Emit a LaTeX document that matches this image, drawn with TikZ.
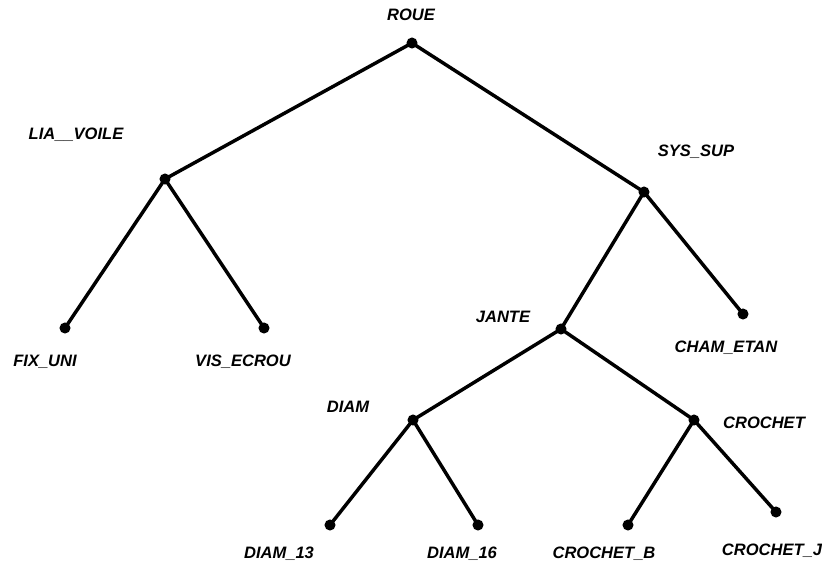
\documentclass[tikz,border=0pt]{standalone}
\usepackage{fontspec}
\setmainfont{Liberation Sans}
\begin{document}
\begin{tikzpicture}[x=0.75pt,y=-0.75pt,
  dot/.style={circle,fill=black,inner sep=0pt,minimum size=8.3pt},
  lbl/.style={font=\fontsize{12.4}{14}\selectfont\bfseries\itshape,inner sep=0pt,anchor=center},
  edge/.style={line width=2.6pt}]
\useasboundingbox (0,0) rectangle (822,569);
% dots
\node[dot] (roue) at (412,43) {};
\node[dot] (lia) at (165,179) {};
\node[dot] (sys) at (644,192) {};
\node[dot] (fix) at (65,328) {};
\node[dot] (vis) at (264,328) {};
\node[dot] (jante) at (561,329) {};
\node[dot] (cham) at (743,314) {};
\node[dot] (diam) at (413,420) {};
\node[dot] (croc) at (694,420) {};
\node[dot] (d13) at (330,525) {};
\node[dot] (d16) at (478,525) {};
\node[dot] (cb) at (628,525) {};
\node[dot] (cj) at (776,512) {};
% labels
\node[lbl] (lroue) at (411,15) {ROUE};
\node[lbl] (llia) at (76,135) {LIA\_\_VOILE};
\node[lbl] (lsys) at (696,152) {SYS\_SUP};
\node[lbl] (lfix) at (45,362) {FIX\_UNI};
\node[lbl] (lvis) at (243,362) {VIS\_ECROU};
\node[lbl] (ljante) at (503,317) {JANTE};
\node[lbl] (lcham) at (726,348) {CHAM\_ETAN};
\node[lbl] (ldiam) at (348,407) {DIAM};
\node[lbl] (lcroc) at (764,423) {CROCHET};
\node[lbl] (ld13) at (279,554) {DIAM\_13};
\node[lbl] (ld16) at (462,554) {DIAM\_16};
\node[lbl] (lcb) at (604,554) {CROCHET\_B};
\node[lbl] (lcj) at (772,551) {CROCHET\_J};
% edges
\draw[edge] (roue.center) -- (lia.center);
\draw[edge] (roue.center) -- (sys.center);
\draw[edge] (lia.center) -- (fix.center);
\draw[edge] (lia.center) -- (vis.center);
\draw[edge] (sys.center) -- (jante.center);
\draw[edge] (sys.center) -- (cham.center);
\draw[edge] (jante.center) -- (diam.center);
\draw[edge] (jante.center) -- (croc.center);
\draw[edge] (diam.center) -- (d13.center);
\draw[edge] (diam.center) -- (d16.center);
\draw[edge] (croc.center) -- (cb.center);
\draw[edge] (croc.center) -- (cj.center);
\end{tikzpicture}
\end{document}
